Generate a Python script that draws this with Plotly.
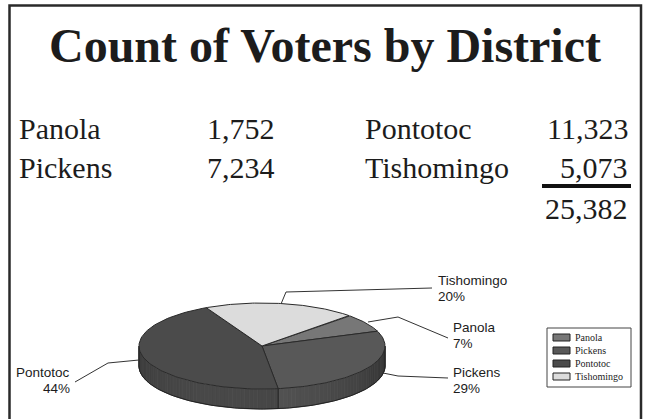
import numpy as np
import plotly.graph_objects as go

# ---------------- data ----------------
districts = ["Panola", "Pickens", "Pontotoc", "Tishomingo"]
voters = [1752, 7234, 11323, 5073]
pct_labels = ["7%", "29%", "44%", "20%"]
title_text = "Count of Voters by District"

# ---------------- styles ----------------
top_colors = ["#777777", "#585858", "#4b4b4b", "#dcdcdc"]
SERIF = "Liberation Serif, Times New Roman, serif"
SANS = "Liberation Sans, Arial, sans-serif"
INK = "#1c1c1c"

W, H = 647, 419
cx, cy, ra, rb, depth = 262.0, 346.0, 123.0, 43.0, 20.0
start_deg = 45.0

fig = go.Figure()


def hexrgb(h):
    h = h.lstrip("#")
    return [int(h[i:i + 2], 16) for i in (0, 2, 4)]


def shade(h, f):
    r, g, b = hexrgb(h)
    return "rgb(%d,%d,%d)" % tuple(max(0, min(255, int(round(c * f)))) for c in (r, g, b))


def ept(t, dy=0.0):
    tr = np.radians(t)
    return cx + ra * np.cos(tr), cy - rb * np.sin(tr) + dy


total = float(sum(voters))
fracs = [v / total for v in voters]
bounds = [start_deg]
for fr in fracs:
    bounds.append(bounds[-1] - fr * 360.0)

# ---------------- side (front) of the 3D pie ----------------
for i, col in enumerate(top_colors):
    t0, t1 = bounds[i], bounds[i + 1]
    grid = [g for g in np.arange(-720, 721, 2.0) if t1 < g < t0]
    pts = sorted(set([t0, t1] + grid), reverse=True)
    for a0, a1 in zip(pts[:-1], pts[1:]):
        mid = 0.5 * (a0 + a1)
        if np.sin(np.radians(mid)) >= 0:
            continue
        f = 0.66 + 0.30 * np.cos(np.radians(mid - 250.0))
        c = shade(col, f)
        ts = np.linspace(a0, a1, 3)
        xs_t, ys_t = ept(ts)
        xs_b, ys_b = ept(ts[::-1], depth)
        xs = list(xs_t) + list(xs_b) + [xs_t[0]]
        ys = list(ys_t) + list(ys_b) + [ys_t[0]]
        fig.add_trace(go.Scatter(x=xs, y=ys, mode="lines", fill="toself",
                                 fillcolor=c, line=dict(color=c, width=0.8),
                                 hoverinfo="skip", showlegend=False))

# side outline: bottom arc and vertical edges
tb = np.linspace(180, 360, 120)
bx, by = ept(tb, depth)
fig.add_trace(go.Scatter(x=bx, y=by, mode="lines", line=dict(color="#222222", width=1),
                         hoverinfo="skip", showlegend=False))
edge_angles = [180.0, 360.0] + [b for b in bounds if np.sin(np.radians(b)) < 0]
for t in edge_angles:
    x0, y0 = ept(t)
    x1, y1 = ept(t, depth)
    fig.add_trace(go.Scatter(x=[x0, x1], y=[y0, y1], mode="lines",
                             line=dict(color="#222222", width=1),
                             hoverinfo="skip", showlegend=False))

# ---------------- top faces ----------------
for i, col in enumerate(top_colors):
    t0, t1 = bounds[i], bounds[i + 1]
    ts = np.linspace(t0, t1, 90)
    xs, ys = ept(ts)
    fig.add_trace(go.Scatter(x=[cx] + list(xs) + [cx], y=[cy] + list(ys) + [cy],
                             mode="lines", fill="toself", fillcolor=col,
                             line=dict(color="#2a2a2a", width=1),
                             hoverinfo="skip", showlegend=False, name=districts[i]))

# ---------------- pie labels with leader lines ----------------
label_pos = {
    "Tishomingo": dict(x=436, y1=280, y2=296, anchor="left",
                       line=[(281, 304), (286, 292), (432, 288)]),
    "Panola": dict(x=451, y1=327, y2=343, anchor="left",
                   line=[(368, 322), (398, 317), (448, 338)]),
    "Pickens": dict(x=451, y1=372, y2=388, anchor="left",
                    line=[(383, 373), (398, 376), (448, 378)]),
    "Pontotoc": dict(x=72, y1=372, y2=388, anchor="right",
                     line=[(75, 382), (108, 363), (139, 360)]),
}
annotations = []
for name, pl in zip(districts, pct_labels):
    p = label_pos[name]
    lx, ly = zip(*p["line"])
    fig.add_trace(go.Scatter(x=list(lx), y=list(ly), mode="lines",
                             line=dict(color="#333333", width=1),
                             hoverinfo="skip", showlegend=False))
    for txt, yy in ((name, p["y1"]), (pl, p["y2"])):
        annotations.append(dict(x=p["x"], y=yy, xref="x", yref="y", text=txt,
                                showarrow=False, xanchor=p["anchor"], yanchor="middle",
                                font=dict(family=SANS, size=13.5, color=INK)))

# ---------------- title ----------------
annotations.append(dict(x=324.5, y=45, xref="x", yref="y", text="<b>%s</b>" % title_text,
                        showarrow=False, xanchor="center", yanchor="middle",
                        font=dict(family=SERIF, size=48, color=INK)))

# ---------------- table of counts ----------------
col_name_x = [17, 363]
col_val_x = [277, 630]
row_y = [128, 167]
for i, (name, v) in enumerate(zip(districts, voters)):
    c, r = divmod(i, 2)
    annotations.append(dict(x=col_name_x[c], y=row_y[r], xref="x", yref="y", text=name,
                            showarrow=False, xanchor="left", yanchor="middle",
                            font=dict(family=SERIF, size=30, color=INK)))
    annotations.append(dict(x=col_val_x[c], y=row_y[r], xref="x", yref="y",
                            text="{:,}".format(v), showarrow=False, xanchor="right",
                            yanchor="middle", font=dict(family=SERIF, size=30, color=INK)))
annotations.append(dict(x=col_val_x[1], y=208, xref="x", yref="y",
                        text="{:,}".format(int(total)), showarrow=False, xanchor="right",
                        yanchor="middle", font=dict(family=SERIF, size=30, color=INK)))

shapes = [
    # outer frame
    dict(type="rect", xref="x", yref="y", x0=9.5, y0=5.5, x1=641, y1=440,
         line=dict(color="#2a2a2a", width=2.5)),
    # sum rule
    dict(type="line", xref="x", yref="y", x0=542, x1=631, y0=186, y1=186,
         line=dict(color="#111111", width=4)),
    # legend box
    dict(type="rect", xref="x", yref="y", x0=547, y0=328, x1=631, y1=387,
         line=dict(color="#444444", width=1)),
]

# ---------------- legend ----------------
leg_y = [337.5, 350.5, 363.5, 376.5]
for name, col, yy in zip(districts, top_colors, leg_y):
    shapes.append(dict(type="rect", xref="x", yref="y", x0=553, x1=570, y0=yy - 3.5,
                       y1=yy + 3.5, fillcolor=col, line=dict(color="#222222", width=1)))
    annotations.append(dict(x=573, y=yy, xref="x", yref="y", text=name, showarrow=False,
                            xanchor="left", yanchor="middle",
                            font=dict(family=SERIF, size=10, color=INK)))

fig.update_layout(
    width=W, height=H, margin=dict(l=0, r=0, t=0, b=0),
    paper_bgcolor="white", plot_bgcolor="white", showlegend=False,
    xaxis=dict(range=[0, W], visible=False, fixedrange=True),
    yaxis=dict(range=[H, 0], visible=False, fixedrange=True),
    annotations=annotations, shapes=shapes,
)

fig.write_html("out.html")
